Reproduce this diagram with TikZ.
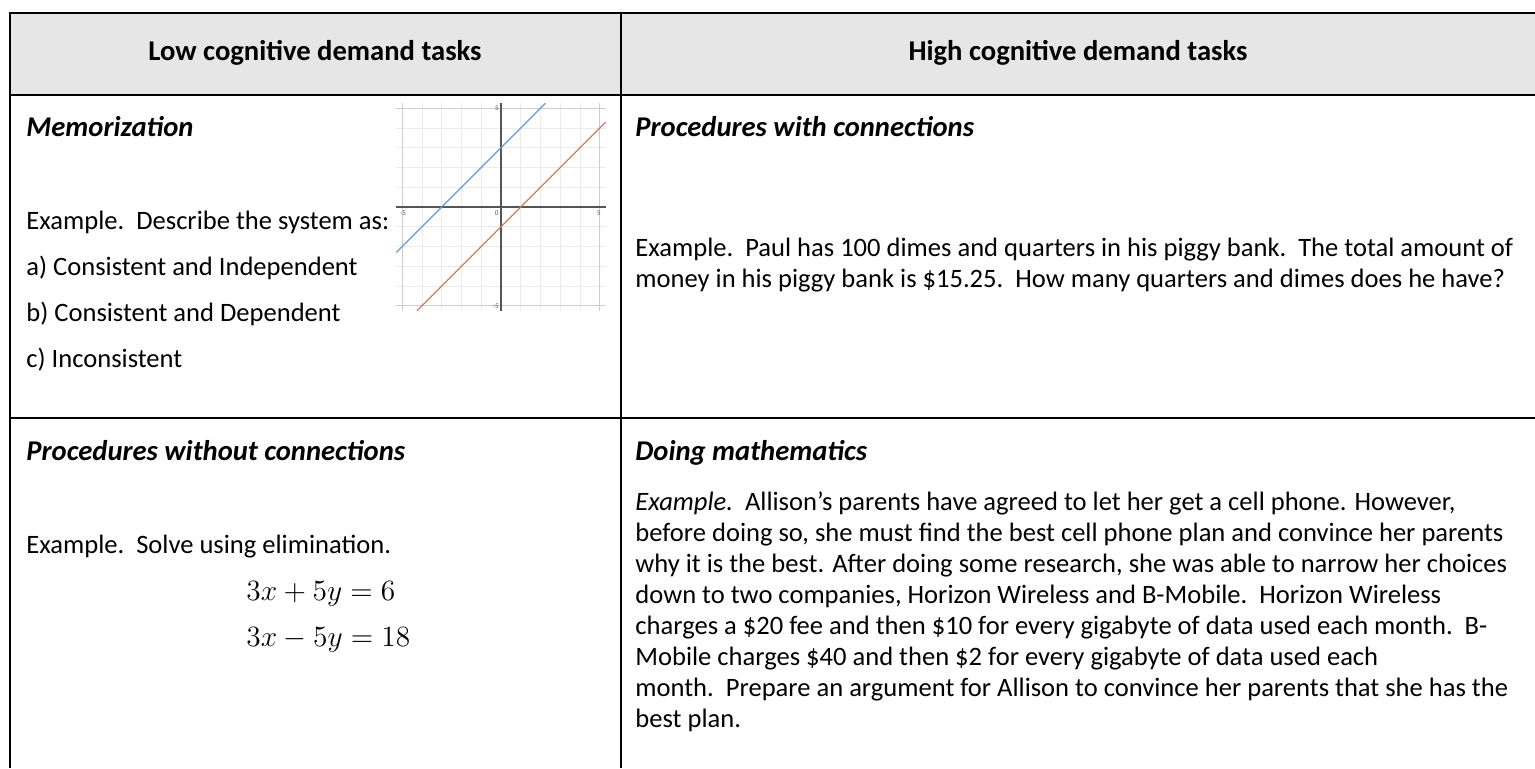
\documentclass[tikz,border=0pt]{standalone}
\usepackage{fontspec}
\setmainfont{Carlito}

\definecolor{headgray}{HTML}{E6E6E6}
\definecolor{gridgray}{HTML}{EBEBEB}
\definecolor{edgegray}{HTML}{CDCDCD}
\definecolor{axisgray}{HTML}{555555}
\definecolor{lineblue}{HTML}{6A9AD2}
\definecolor{linered}{HTML}{D8756C}

\begin{document}
\begin{tikzpicture}[x=0.4894pt, y=-0.4894pt,
  txt/.style={anchor=base west, inner sep=0pt, font=\fontsize{13}{15}\selectfont},
  head/.style={anchor=base, inner sep=0pt, font=\fontsize{14}{16}\selectfont\bfseries},
  kind/.style={anchor=base west, inner sep=0pt, font=\fontsize{14}{16}\selectfont\bfseries\itshape},
  eqn/.style={anchor=base west, inner sep=0pt, font=\fontsize{14}{16}\selectfont},
  rule/.style={line width=1pt},
  tick/.style={inner sep=0pt, font=\fontsize{3.5}{4}\selectfont, text=axisgray}]
\useasboundingbox (0,0) rectangle (1535,768);

% table frame
\fill[headgray] (10,13) rectangle (1535,95);
\draw[rule] (1535,13) -- (10,13) -- (10,768);
\draw[rule] (10,95) -- (1535,95);
\draw[rule] (10,418) -- (1535,418);
\draw[rule] (621,13) -- (621,768);

\node[head] (low) at (315,61) {Low cognitive demand tasks};
\node[head] (high) at (1078,61) {High cognitive demand tasks};

% memorization
\node[kind] (memo) at (26,137) {Memorization};
\node[txt] (memo-ex) at (26,229) {Example.\ \ Describe the system as:};
\node[txt] (memo-a) at (26,275) {a) Consistent and Independent};
\node[txt] (memo-b) at (26,321) {b) Consistent and Dependent};
\node[txt] (memo-c) at (26,367) {c) Inconsistent};

% graph of the system
\begin{scope}[shift={(501,207)}, x=9.67pt, y=9.67pt]
\foreach \k in {-4,...,4}
{
  \draw[gridgray, line width=0.4pt] (\k,-5.25) -- (\k,5.25);
  \draw[gridgray, line width=0.4pt] (-5.3,\k) -- (5.3,\k);
}
\foreach \k in {-5,5}
{
  \draw[edgegray, line width=0.6pt] (\k,-5.25) -- (\k,5.25);
  \draw[edgegray, line width=0.6pt] (-5.3,\k) -- (5.3,\k);
}
\draw[axisgray, line width=0.5pt] (-5.3,0) -- (5.3,0);
\draw[axisgray, line width=0.5pt] (0,-5.25) -- (0,5.25);
\draw[lineblue, line width=0.6pt] (-5.3,-2.3) -- (2.25,5.25);
\draw[linered, line width=0.6pt] (-4.25,-5.25) -- (5.3,4.3);
\node[tick, anchor=east] (tick-top) at (-0.1,5) {5};
\node[tick, anchor=east] (tick-bottom) at (-0.1,-5) {-5};
\node[tick] (tick-left) at (-4.95,-0.32) {-5};
\node[tick] (tick-zero) at (-0.22,-0.32) {0};
\node[tick] (tick-right) at (4.95,-0.32) {5};
\end{scope}

% procedures with connections
\node[kind] (conn) at (635,137) {Procedures with connections};
\node[txt] (conn-1) at (635,256) {Example.\ \ Paul has 100 dimes and quarters in his piggy bank.\ \ The total amount of};
\node[txt] (conn-2) at (635,287) {money in his piggy bank is \$15.25.\ \ How many quarters and dimes does he have?};

% procedures without connections
\node[kind] (proc) at (26,460) {Procedures without connections};
\node[txt] (proc-ex) at (26,553) {Example.\ \ Solve using elimination.};
\node[eqn] (eq-1) at (246,600) {$3x+5y=6$};
\node[eqn] (eq-2) at (246,646) {$3x-5y=18$};

% doing mathematics
\node[kind] (doing) at (635,460) {Doing mathematics};
\node[txt] (doing-1) at (635,510) {\textit{Example.}\ \ Allison’s parents have agreed to let her get a cell phone. However,};
\node[txt] (doing-2) at (635,541) {before doing so, she must find the best cell phone plan and convince her parents};
\node[txt] (doing-3) at (635,572) {why it is the best. After doing some research, she was able to narrow her choices};
\node[txt] (doing-4) at (635,603) {down to two companies, Horizon Wireless and B-Mobile.\ \ Horizon Wireless};
\node[txt] (doing-5) at (635,634) {charges a \$20 fee and then \$10 for every gigabyte of data used each month.\ \ B-};
\node[txt] (doing-6) at (635,665) {Mobile charges \$40 and then \$2 for every gigabyte of data used each};
\node[txt] (doing-7) at (635,696) {month.\ \ Prepare an argument for Allison to convince her parents that she has the};
\node[txt] (doing-8) at (635,727) {best plan.};
\end{tikzpicture}
\end{document}
